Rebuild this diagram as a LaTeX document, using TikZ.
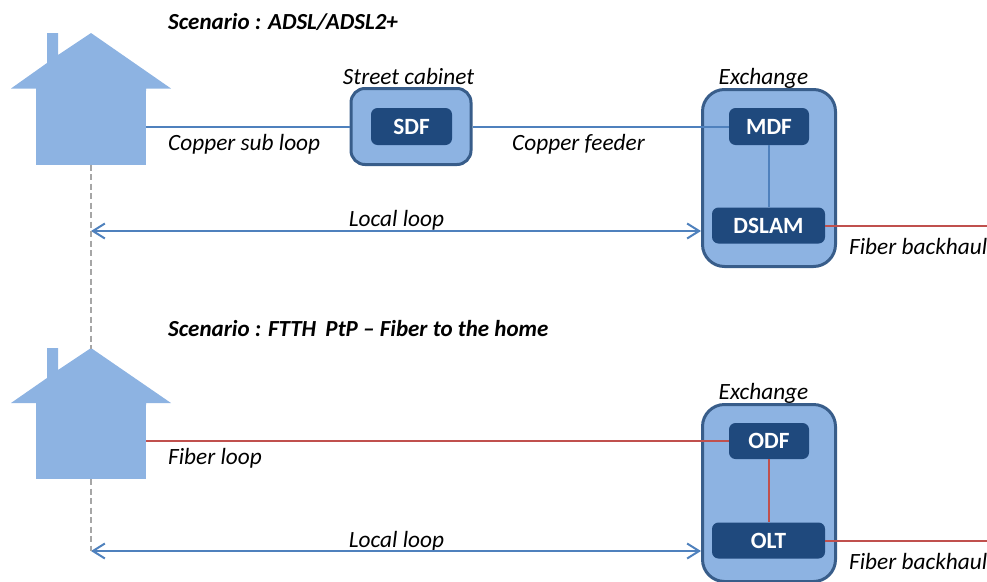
\documentclass[tikz,border=0pt]{standalone}
\usepackage{fontspec}
\setmainfont{Carlito}
\usetikzlibrary{arrows.meta}
\definecolor{housefill}{HTML}{8DB3E2}
\definecolor{boxline}{HTML}{385D8A}
\definecolor{boxdark}{HTML}{1F497D}
\definecolor{copperline}{HTML}{4F81BD}
\definecolor{fiberline}{HTML}{C0504D}
\tikzset{
  housebody/.style={fill=housefill,minimum width=110pt,minimum height=76pt,inner sep=0pt},
  roof/.style={fill=housefill},
  sitebox/.style={draw=boxline,line width=3pt,fill=housefill,inner sep=0pt},
  unitbox/.style={fill=boxdark,rounded corners=6.5pt,text=white,inner sep=0pt,font=\fontsize{23.3}{26}\selectfont\bfseries},
  note/.style={font=\fontsize{23.3}{26}\selectfont\itshape,inner sep=0pt},
  title/.style={font=\fontsize{23}{26}\selectfont\bfseries\itshape,inner sep=0pt},
  copper/.style={copperline,line width=2pt},
  fiber/.style={fiberline,line width=2pt},
  span/.style={copperline,line width=2pt,{Straight Barb[length=12pt,width=15pt]}-{Straight Barb[length=12pt,width=15pt]}},
  drop/.style={black!35,line width=1.3pt,dash pattern=on 6pt off 3.5pt},
}
\begin{document}
\begin{tikzpicture}[x=1pt,y=-1pt]
        \useasboundingbox (0,0) rectangle (987,581);
        % first scenario
        \node [title,anchor=base west] (title1) at (168,29) {Scenario : ADSL/ADSL2+};
        \node [housebody] (house1) at (91,126.5) {};
        \fill [roof] (47,63) -- (47,33) -- (58,33) -- (58,55) -- (91,33) -- (171,88.5) -- (146,88.5) -- (146,91) -- (36,91) -- (36,88.5) -- (11,88.5) -- cycle;
        \node [sitebox,rounded corners=14pt,minimum width=120pt,minimum height=76pt] (cabinet) at (411,126.5) {};
        \node [unitbox,minimum width=81pt,minimum height=37pt] (sdf) at (411.5,126.5) {SDF};
        \node [sitebox,rounded corners=22pt,minimum width=133pt,minimum height=177pt] (exch1) at (769,178) {};
        \node [unitbox,minimum width=80pt,minimum height=37pt] (mdf) at (769,126.5) {MDF};
        \node [unitbox,minimum width=113pt,minimum height=36pt] (dslam) at (768.5,225.5) {DSLAM};
        \node [note,anchor=base] (cablab) at (408.5,84) {Street cabinet};
        \node [note,anchor=base] (exlab1) at (763.5,84) {Exchange};
        \node [note,anchor=base west] (sublab) at (168,150) {Copper sub loop};
        \node [note,anchor=base west] (feedlab) at (512,150) {Copper feeder};
        \node [note,anchor=base] (looplab1) at (396.5,226) {Local loop};
        \node [note,anchor=base west] (backlab1) at (849,254) {Fiber backhaul};
        \coordinate (end1) at (987,225.5);
        \coordinate (left1) at (91,231);
        \draw [copper] (house1.east) -- (cabinet.west);
        \draw [copper] (cabinet.east) -- (mdf.west);
        \draw [copper] (mdf.south) -- (mdf.south |- dslam.north);
        \draw [fiber] (dslam.east) -- (end1);
        \draw [span] (left1) -- (exch1.west |- left1);
        % second scenario
        \node [title,anchor=base west] (title2) at (168,336) {Scenario : FTTH\, PtP -- Fiber to the home};
        \node [housebody] (house2) at (91,441) {};
        \fill [roof] (47,378) -- (47,348) -- (58,348) -- (58,370) -- (91,348) -- (171,403) -- (146,403) -- (146,405) -- (36,405) -- (36,403) -- (11,403) -- cycle;
        \node [sitebox,rounded corners=22pt,minimum width=133pt,minimum height=177pt] (exch2) at (769,493) {};
        \node [unitbox,minimum width=80pt,minimum height=36pt] (odf) at (769,441) {ODF};
        \node [unitbox,minimum width=113pt,minimum height=36pt] (olt) at (768.5,540.5) {OLT};
        \node [note,anchor=base] (exlab2) at (763.5,399) {Exchange};
        \node [note,anchor=base west] (fiblab) at (168,464) {Fiber loop};
        \node [note,anchor=base] (looplab2) at (396.5,547) {Local loop};
        \node [note,anchor=base west] (backlab2) at (849,569) {Fiber backhaul};
        \coordinate (end2) at (987,540.5);
        \coordinate (left2) at (91,551);
        \draw [fiber] (house2.east) -- (odf.west);
        \draw [fiber] (odf.south) -- (odf.south |- olt.north);
        \draw [fiber] (olt.east) -- (end2);
        \draw [span] (left2) -- (exch2.west |- left2);
        % dashed drop lines
        \draw [drop] (house1.south) -- (house2.north |- 0,349);
        \draw [drop] (house2.south) -- (left2);
\end{tikzpicture}
\end{document}
